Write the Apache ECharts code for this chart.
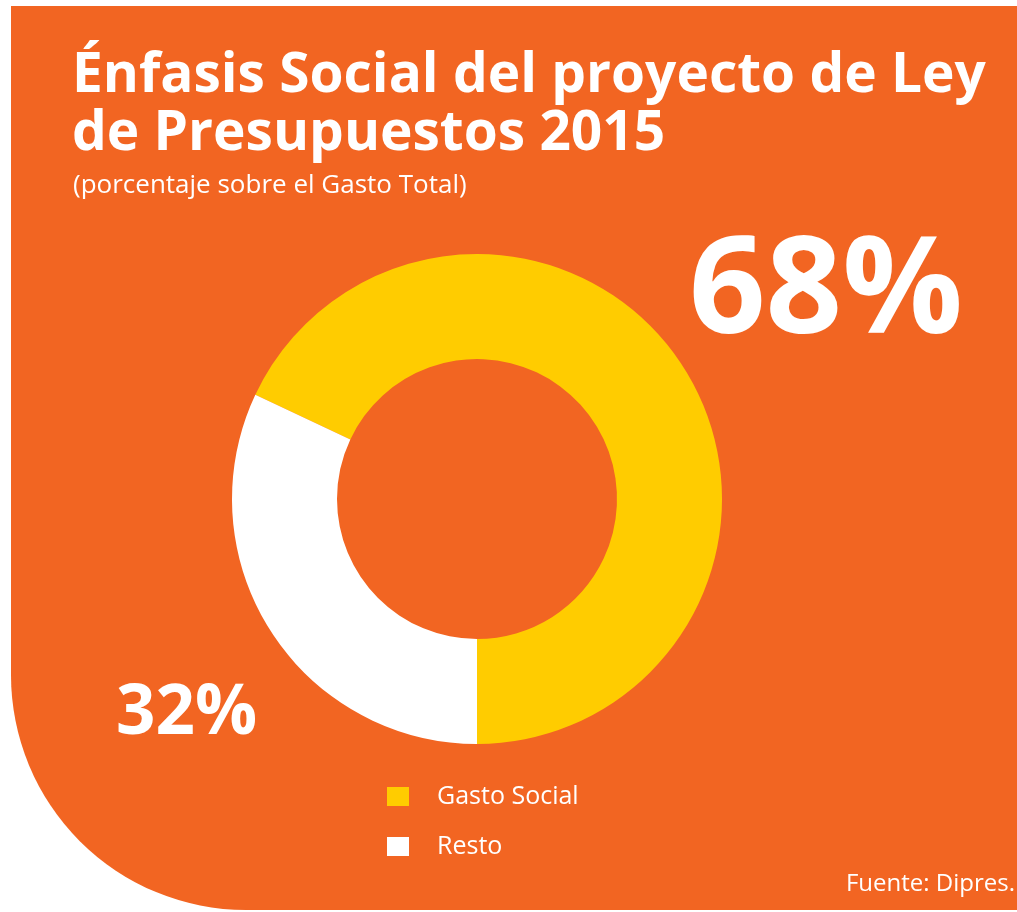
<!DOCTYPE html>
<html>
<head>
<meta charset="UTF-8">
<title>Énfasis Social</title>
<script src="https://cdn.jsdelivr.net/npm/echarts@6/dist/echarts.min.js"></script>
<style>
  html, body { margin: 0; padding: 0; background: #ffffff; }
  #main { width: 1017px; height: 912px; }
</style>
</head>
<body>
<div id="main"></div>
<script>
  // datos
  var categorias = ['Gasto Social', 'Resto'];
  var valores = [68, 32];
  var colores = ['#ffcc00', '#ffffff'];

  var myChart = echarts.init(document.getElementById('main'));

  var pieData = [];
  for (var i = 0; i < categorias.length; i++) {
    pieData.push({ name: categorias[i], value: valores[i], itemStyle: { color: colores[i] } });
  }

  var blanco = '#ffffff';
  var fuente = '"Open Sans"';

  var option = {
    backgroundColor: '#ffffff',
    animation: false,
    graphic: [
      {
        // fondo naranja con la esquina inferior izquierda redondeada
        type: 'rect',
        z: -10,
        shape: { x: 11, y: 6, width: 1006, height: 904, r: [0, 0, 0, 235] },
        style: { fill: '#f26522' }
      },
      {
        type: 'text', left: 72, top: 49,
        style: { text: 'Énfasis Social del proyecto de Ley', fill: blanco, font: 'bold 55px ' + fuente }
      },
      {
        type: 'text', left: 72, top: 107,
        style: { text: 'de Presupuestos 2015', fill: blanco, font: 'bold 55px ' + fuente }
      },
      {
        type: 'text', left: 73, top: 173,
        style: { text: '(porcentaje sobre el Gasto Total)', fill: blanco, font: '26px ' + fuente }
      },
      {
        type: 'text', left: 689, top: 228,
        style: { text: valores[0] + '%', fill: blanco, font: 'bold 134px ' + fuente }
      },
      {
        type: 'text', left: 116, top: 680,
        style: { text: valores[1] + '%', fill: blanco, font: 'bold 69px ' + fuente }
      },
      {
        type: 'text', right: 2, top: 872,
        style: { text: 'Fuente: Dipres.', fill: blanco, font: '24px ' + fuente }
      }
    ],
    legend: {
      orient: 'vertical',
      left: 382,
      top: 779,
      icon: 'rect',
      itemWidth: 22,
      itemHeight: 19,
      itemGap: 25,
      data: categorias,
      textStyle: { color: blanco, fontSize: 25, fontFamily: 'Open Sans', padding: [0, 0, 0, 23] }
    },
    series: [
      {
        name: 'Gasto',
        type: 'pie',
        center: [477, 499],
        radius: [140, 245],
        startAngle: 270,
        clockwise: false,
        label: { show: false },
        labelLine: { show: false },
        itemStyle: { borderWidth: 0 },
        emphasis: { disabled: true },
        data: pieData
      }
    ]
  };

  myChart.setOption(option);
</script>
</body>
</html>
